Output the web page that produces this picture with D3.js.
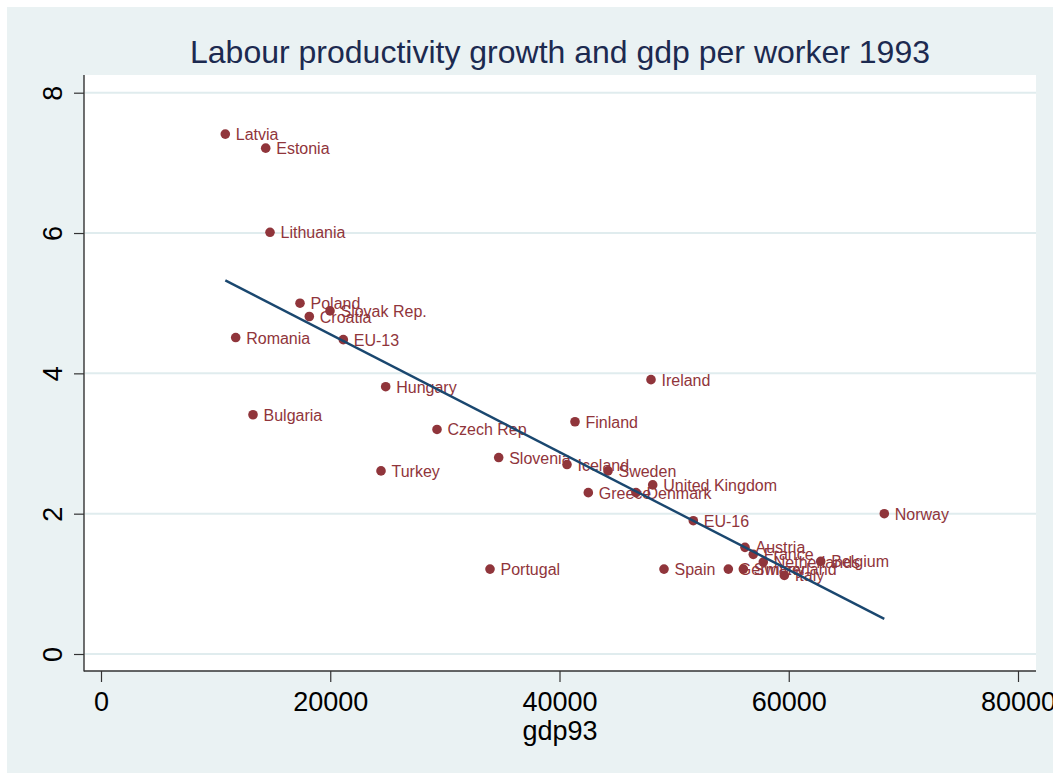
<!DOCTYPE html>
<html>
<head>
<meta charset="utf-8">
<script src="https://cdn.jsdelivr.net/npm/d3@7"></script>
<style>
  html, body { margin: 0; padding: 0; background: #ffffff; }
  svg { display: block; font-family: "Liberation Sans", Arial, Helvetica, sans-serif; }
</style>
</head>
<body>
<svg id="chart" width="1053" height="774"></svg>
<script>
// Countries and country groups
const countries = ["Latvia", "Estonia", "Lithuania", "Poland", "Slovak Rep.", "Croatia", "Romania", "EU-13",
  "Hungary", "Bulgaria", "Czech Rep", "Turkey", "Slovenia", "Iceland", "Sweden", "Finland", "Ireland",
  "Greece", "Denmark", "United Kingdom", "EU-16", "Norway", "Portugal", "Spain", "Austria", "France",
  "Netherlands", "Belgium", "Germany", "Switzerland", "Italy"];

// GDP per worker in 1993
const gdp93 = [10844, 14369, 14744, 17361, 19978, 18173, 11751, 21139,
  24837, 13261, 29313, 24428, 34696, 40654, 44231, 41352, 47982,
  42513, 46674, 48131, 51674, 68335, 33937, 49117, 56183, 56907,
  57779, 62787, 54729, 56038, 59616];

// Labour productivity growth
const growth = [7.41, 7.21, 6.01, 5.00, 4.89, 4.81, 4.51, 4.48,
  3.81, 3.41, 3.20, 2.61, 2.80, 2.70, 2.61, 3.31, 3.91,
  2.30, 2.30, 2.41, 1.90, 2.00, 1.21, 1.21, 1.52, 1.42,
  1.31, 1.32, 1.21, 1.21, 1.12];

// Fitted linear trend, evaluated at the smallest and largest gdp93
const fitX = [10844, 68335];
const fitY = [5.325, 0.50];

const xTicks = [0, 20000, 40000, 60000, 80000];
const yTicks = [0, 2, 4, 6, 8];

const titleText = "Labour productivity growth and gdp per worker 1993";
const xTitle = "gdp93";

const svg = d3.select("#chart");
const W = 1053, H = 774;

// outer graph region
svg.append("rect").attr("x", 0).attr("y", 0).attr("width", W).attr("height", H).attr("fill", "#ffffff");
svg.append("rect").attr("x", 7).attr("y", 7).attr("width", W - 7).attr("height", H - 8).attr("fill", "#EAF2F3");

// plot region
const plot = { left: 84, right: 1036, top: 75, bottom: 671 };
svg.append("rect")
  .attr("x", plot.left).attr("y", plot.top)
  .attr("width", plot.right - plot.left).attr("height", plot.bottom - plot.top)
  .attr("fill", "#ffffff");

const x = d3.scaleLinear().domain([0, 80000]).range([101, 1018]);
const y = d3.scaleLinear().domain([0, 8]).range([654, 92.7]);

// horizontal grid lines
svg.append("g").selectAll("line").data(yTicks).join("line")
  .attr("x1", plot.left + 1).attr("x2", plot.right)
  .attr("y1", d => y(d)).attr("y2", d => y(d))
  .attr("stroke", "#E0ECEE").attr("stroke-width", 2);

// y axis
const yAxis = svg.append("g").attr("transform", `translate(${plot.left},0)`)
  .call(d3.axisLeft(y).tickValues(yTicks).tickSize(10).tickPadding(0).tickFormat(d3.format("d")));
yAxis.select(".domain").remove();
yAxis.selectAll(".tick line").attr("stroke", "#333333").attr("stroke-width", 1.2);
yAxis.selectAll(".tick text").remove();
yAxis.selectAll(".tick").append("text")
  .attr("transform", "translate(-32,0) rotate(-90)")
  .attr("text-anchor", "middle")
  .attr("dy", "0.36em")
  .attr("fill", "#000000")
  .style("font-size", "27px")
  .style("font-family", "'Liberation Sans', Arial, sans-serif")
  .text(d => d);

// x axis
const xAxis = svg.append("g").attr("transform", `translate(0,${plot.bottom})`)
  .call(d3.axisBottom(x).tickValues(xTicks).tickSize(11).tickPadding(10).tickFormat(d3.format("d")));
xAxis.select(".domain").remove();
xAxis.selectAll(".tick line").attr("stroke", "#333333").attr("stroke-width", 1.2);
xAxis.selectAll(".tick text")
  .attr("fill", "#000000")
  .style("font-size", "27px")
  .style("font-family", "'Liberation Sans', Arial, sans-serif");

// axis lines
svg.append("line").attr("x1", plot.left).attr("x2", plot.left)
  .attr("y1", plot.top).attr("y2", plot.bottom + 0.5)
  .attr("stroke", "#333333").attr("stroke-width", 1.4);
svg.append("line").attr("x1", plot.left).attr("x2", plot.right)
  .attr("y1", plot.bottom).attr("y2", plot.bottom)
  .attr("stroke", "#333333").attr("stroke-width", 1.4);

// points
const pts = countries.map((c, i) => ({ name: c, gx: gdp93[i], gy: growth[i] }));
svg.append("g").selectAll("circle").data(pts).join("circle")
  .attr("cx", d => x(d.gx)).attr("cy", d => y(d.gy)).attr("r", 4.8)
  .attr("fill", "#90353B");

// labels at 3 o'clock
svg.append("g").selectAll("text").data(pts).join("text")
  .attr("x", d => x(d.gx) + 10.5).attr("y", d => y(d.gy) + 6)
  .attr("fill", "#90353B")
  .style("font-size", "16px")
  .text(d => d.name);

// fitted line
svg.append("path")
  .datum(fitX.map((v, i) => [v, fitY[i]]))
  .attr("d", d3.line().x(d => x(d[0])).y(d => y(d[1])))
  .attr("fill", "none").attr("stroke", "#1A476F").attr("stroke-width", 2.4);

// titles
svg.append("text").attr("x", 560).attr("y", 63).attr("text-anchor", "middle")
  .attr("fill", "#1C2A50").style("font-size", "32px").text(titleText);
svg.append("text").attr("x", 560).attr("y", 740).attr("text-anchor", "middle")
  .attr("fill", "#000000").style("font-size", "27px").text(xTitle);
</script>
</body>
</html>
